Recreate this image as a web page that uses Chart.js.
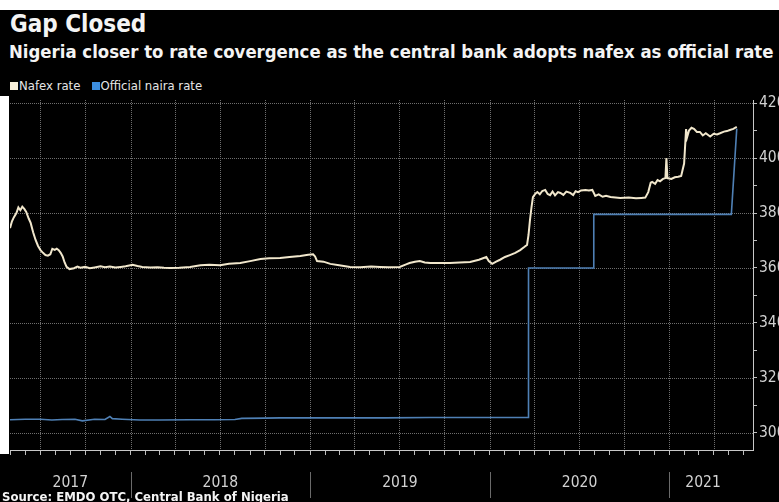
<!DOCTYPE html>
<html>
<head>
<meta charset="utf-8">
<script src="https://cdn.jsdelivr.net/npm/chart.js@4"></script>
<style>
  html, body { margin: 0; padding: 0; background: #000; }
  #wrap { position: relative; width: 779px; height: 502px; overflow: hidden; background: #000;
          font-family: 'DejaVu Sans Condensed', 'Liberation Sans Narrow', sans-serif; color: #f4f4f4; }
  #topband { position: absolute; left: 0; top: 0; width: 779px; height: 10px; background: #fff; }
  #leftband { position: absolute; left: 0; top: 96px; width: 9px; height: 358px; background: #fff; }
  #title { position: absolute; left: 10px; top: 10px; font-size: 24px; font-weight: bold; white-space: nowrap; }
  #subtitle { position: absolute; left: 9px; top: 41px; font-size: 18.4px; font-weight: bold; white-space: nowrap; }
  #legend { position: absolute; left: 10px; top: 78px; font-size: 13px; color: #e6e6e6; white-space: nowrap; }
  #legend span.sq { display: inline-block; width: 8px; height: 8px; margin-right: 1px; vertical-align: 0px; }
  #source { position: absolute; left: 2px; top: 489px; font-size: 13px; font-weight: bold; white-space: nowrap; }
  #chart { position: absolute; left: 0; top: 90px; }
</style>
</head>
<body>
<div id="wrap">
  <div id="topband"></div>
  <div id="title">Gap Closed</div>
  <div id="subtitle">Nigeria closer to rate covergence as the central bank adopts nafex as official rate</div>
  <div id="legend"><span class="sq" style="background:#f6efdc"></span>Nafex rate&nbsp;&nbsp;&nbsp;<span class="sq" style="background:#3c8ee0"></span>Official naira rate</div>
  <canvas id="chart" width="800" height="412"></canvas>
  <div id="leftband"></div>
  <div id="source">Source: EMDO OTC, Central Bank of Nigeria</div>
</div>
<script>
const nafexDates = [
  '2017-05-01','2017-05-05','2017-05-09','2017-05-14','2017-05-18','2017-05-22','2017-05-26','2017-05-30',
  '2017-06-03','2017-06-08','2017-06-12','2017-06-17','2017-06-22','2017-06-27','2017-07-02','2017-07-07',
  '2017-07-12','2017-07-17','2017-07-22','2017-07-26','2017-07-31','2017-08-04','2017-08-08','2017-08-12',
  '2017-08-16','2017-08-20','2017-08-24','2017-08-30','2017-09-08','2017-09-15','2017-09-21','2017-10-01',
  '2017-10-10','2017-10-20','2017-11-01','2017-11-10','2017-11-20','2017-12-01','2017-12-12','2017-12-22',
  '2018-01-05','2018-01-15','2018-01-25','2018-02-10','2018-02-25','2018-03-10','2018-03-23','2018-04-10',
  '2018-05-02','2018-05-23','2018-06-10','2018-07-02','2018-07-20','2018-08-12','2018-09-01','2018-09-22',
  '2018-10-10','2018-11-01','2018-11-20','2018-12-12','2018-12-28','2019-01-07','2019-01-11','2019-01-15',
  '2019-01-28','2019-02-11','2019-03-01','2019-03-23','2019-04-13','2019-05-05','2019-05-23','2019-06-10',
  '2019-07-02','2019-07-15','2019-07-22','2019-08-02','2019-08-12','2019-08-22','2019-09-02','2019-09-20',
  '2019-10-12','2019-11-01','2019-11-22','2019-12-10','2019-12-25','2019-12-30','2020-01-06','2020-01-14',
  '2020-01-22','2020-02-01','2020-02-11','2020-02-22','2020-03-03','2020-03-12','2020-03-17','2020-03-20',
  '2020-03-23','2020-03-26','2020-03-29','2020-04-03','2020-04-07','2020-04-12','2020-04-17','2020-04-23',
  '2020-04-28','2020-05-03','2020-05-08','2020-05-13','2020-05-19','2020-05-24','2020-05-30','2020-06-05',
  '2020-06-13','2020-06-19','2020-06-24','2020-06-29','2020-07-05','2020-07-14','2020-07-21','2020-07-28',
  '2020-08-03','2020-08-10','2020-08-18','2020-08-25','2020-09-03','2020-09-23','2020-10-10','2020-10-25',
  '2020-11-05','2020-11-13','2020-11-19','2020-11-24','2020-11-27','2020-12-03','2020-12-08','2020-12-13',
  '2020-12-19','2020-12-24','2020-12-26','2020-12-28','2021-01-05','2021-01-12','2021-01-19','2021-01-25',
  '2021-01-31','2021-02-04','2021-02-06','2021-02-10','2021-02-15','2021-02-20','2021-02-26','2021-03-04',
  '2021-03-10','2021-03-16','2021-03-25','2021-04-01','2021-04-08','2021-04-14','2021-04-22','2021-04-28',
  '2021-05-04','2021-05-11','2021-05-18'
];
const nafexValues = [
  374.5,377,378.5,380,382,381,382.3,381.5,
  380.4,378,376.4,373,370.2,368,366.5,365.5,
  364.7,364.5,365,367,366.6,367,366.5,365.5,
  364.2,362,360.4,359.6,359.9,360.5,360.1,360.4,
  359.9,360.2,360.6,360.3,360.5,360.2,360.4,360.6,
  361.2,360.7,360.4,360.2,360.3,360.1,360,360.1,
  360.4,361,361.2,361,361.5,361.8,362.5,363.3,
  363.5,363.6,364,364.4,364.8,365,364.2,362.5,
  362.3,361.5,361,360.4,360.3,360.5,360.4,360.3,
  360.4,361.3,361.8,362.3,362.5,362,361.8,361.8,
  361.8,362,362.2,363,364,362.5,361.5,362.3,
  363,364,364.7,365.5,366.5,367.7,368.4,372,
  377.5,382,385.8,387,387.6,386.8,388,388.4,
  386.9,386.5,387.8,386.4,387.6,387.3,386.6,387.8,
  387.3,386.5,387.9,387.6,388.2,388.4,388.2,388.4,
  386.2,386.8,385.9,386.3,385.8,385.5,385.6,385.4,
  385.5,385.6,387.6,391,391.3,390.6,392,391.5,
  392.4,392.7,400,392.7,392.4,393,393.2,393.5,
  398,410.5,407.5,410,411,410.6,409.5,409.5,
  408.2,409,407.8,408.8,408.6,409,409.6,409.8,
  410.2,410.6,411.3
];

const officialDates = [
  '2017-05-01','2017-06-01','2017-07-02','2017-07-25','2017-08-15','2017-09-10','2017-09-25','2017-10-20',
  '2017-11-10','2017-11-20','2017-11-25','2017-12-15','2018-01-20','2018-03-01','2018-05-01','2018-06-20',
  '2018-08-01','2018-08-15','2018-10-01','2018-11-01','2019-02-01','2019-06-01','2019-09-01','2019-12-01',
  '2020-03-01','2020-03-19','2020-03-20','2020-07-30','2020-07-31','2021-05-07','2021-05-18'
];
const officialValues = [
  304.8,305,305,304.7,304.9,305,304.4,305,
  304.9,306,305.2,305,304.7,304.7,304.8,304.8,
  304.9,305.3,305.4,305.5,305.5,305.5,305.6,305.6,
  305.6,305.6,360,360,379.5,379.5,410.7
];

const yearLabels = ['2017', '2018', '2019', '2020', '2021'];
const yTicks = [300, 310, 320, 330, 340, 350, 360, 370, 380, 390, 400, 410, 420];
const yLabelled = [300, 320, 340, 360, 380, 400, 420];

const xStart = '2017-05-01';
const xEnd = '2021-06-20';

// date string -> fractional year
function toYear(s) {
  const [y, m, d] = s.split('-').map(Number);
  const t0 = Date.UTC(y, 0, 1), t1 = Date.UTC(y + 1, 0, 1);
  return y + (Date.UTC(y, m - 1, d) - t0) / (t1 - t0);
}
function pad(n) { return n < 10 ? '0' + n : '' + n; }

const xMin = toYear(xStart), xMax = toYear(xEnd);
const lastData = toYear(nafexDates[nafexDates.length - 1]);

// monthly ticks, quarterly grid
const monthTicks = [], quarterSet = new Set();
for (let y = 2017; y <= 2021; y++) {
  for (let m = 1; m <= 12; m++) {
    const v = toYear(`${y}-${pad(m)}-01`);
    if (v < xMin - 1e-9 || v > xMax) continue;
    monthTicks.push(v);
    if ((m - 1) % 3 === 0) quarterSet.add(v);
  }
}
// year labels centred in the visible part of each year
const labelAt = new Map();
yearLabels.forEach(lbl => {
  const y = Number(lbl);
  const a = Math.max(y, xMin), b = Math.min(y + 1, lastData);
  labelAt.set((a + b) / 2, lbl);
});
const yearBounds = yearLabels.slice(1).map(Number);

const toPoints = (dates, vals) => dates.map((d, i) => ({ x: toYear(d), y: vals[i] }));

// dotted grid at quarters / every 20, plus year separators under the axis
const gridAndSeparators = {
  id: 'gridAndSeparators',
  beforeDatasetsDraw(chart) {
    const { ctx, chartArea, scales } = chart;
    ctx.save();
    ctx.fillStyle = '#6e6e6e';
    quarterSet.forEach(v => {
      const px = Math.round(scales.x.getPixelForValue(v));
      for (let y = Math.round(chartArea.top); y < chartArea.bottom; y += 2) ctx.fillRect(px, y, 1, 1);
    });
    yLabelled.forEach(v => {
      const py = Math.round(scales.y.getPixelForValue(v));
      for (let x = Math.round(chartArea.left); x < chartArea.right; x += 2) ctx.fillRect(x, py, 1, 1);
    });
    ctx.restore();
  },
  afterDraw(chart) {
    const { ctx, chartArea, scales } = chart;
    ctx.save();
    ctx.strokeStyle = '#6a6a6a';
    ctx.lineWidth = 1;
    yearBounds.forEach(v => {
      const px = Math.round(scales.x.getPixelForValue(v)) + 0.5;
      ctx.beginPath();
      ctx.moveTo(px, chartArea.bottom + 22);
      ctx.lineTo(px, chartArea.bottom + 48);
      ctx.stroke();
    });
    ctx.restore();
  }
};

const fontFam = "'DejaVu Sans Condensed', 'Liberation Sans Narrow', sans-serif";

new Chart(document.getElementById('chart'), {
  type: 'line',
  data: {
    datasets: [
      {
        label: 'Official naira rate',
        data: toPoints(officialDates, officialValues),
        borderColor: '#4f80b5',
        borderWidth: 1.6,
        pointRadius: 0,
        tension: 0
      },
      {
        label: 'Nafex rate',
        data: toPoints(nafexDates, nafexValues),
        borderColor: '#f1e7cc',
        borderWidth: 2,
        pointRadius: 0,
        tension: 0
      }
    ]
  },
  options: {
    responsive: false,
    animation: false,
    devicePixelRatio: 1,
    layout: { padding: { left: 10, top: 10, right: 0, bottom: 0 } },
    plugins: { legend: { display: false }, title: { display: false }, tooltip: { enabled: false } },
    scales: {
      x: {
        type: 'linear',
        min: xMin,
        max: xMax,
        afterBuildTicks: s => {
          const all = monthTicks.concat([...labelAt.keys()]).sort((a, b) => a - b);
          s.ticks = all.map(v => ({ value: v }));
        },
        afterFit: s => { s.height = 52; s.paddingLeft = 0; s.paddingRight = 0; },
        ticks: {
          autoSkip: false,
          maxRotation: 0,
          padding: 19,
          color: '#d2d2d2',
          font: { family: fontFam, size: 15.5 },
          callback: v => labelAt.get(v) || ''
        },
        grid: {
          drawOnChartArea: false,
          tickColor: c => (c.tick && labelAt.has(c.tick.value)) ? 'rgba(0,0,0,0)' : '#bdbdbd',
          tickLength: 5
        },
        border: { display: true, color: '#c8c8c8', width: 1 }
      },
      y: {
        position: 'right',
        min: 293.8,
        max: 421.1,
        afterBuildTicks: s => { s.ticks = yTicks.map(v => ({ value: v })); },
        afterFit: s => { s.width = 47; s.paddingTop = 0; s.paddingBottom = 0; },
        ticks: {
          padding: 2,
          color: '#d2d2d2',
          font: { family: fontFam, size: 15.5 },
          callback: v => yLabelled.includes(v) ? String(v) : ''
        },
        grid: {
          drawOnChartArea: false,
          tickColor: '#bdbdbd',
          tickLength: 4
        },
        border: { display: true, color: '#c8c8c8', width: 1 }
      }
    }
  },
  plugins: [gridAndSeparators]
});
</script>
</body>
</html>
